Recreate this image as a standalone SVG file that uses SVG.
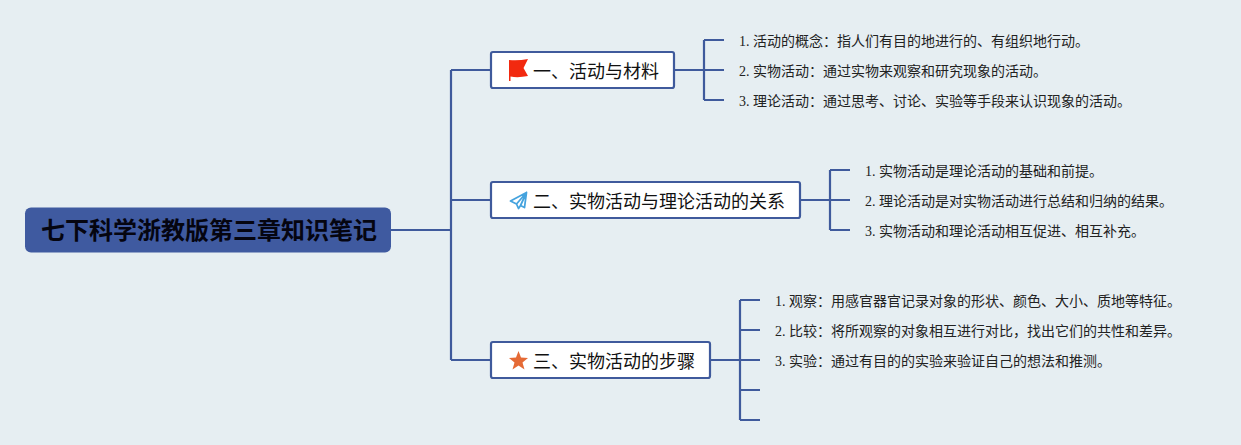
<svg xmlns="http://www.w3.org/2000/svg" width="1241" height="445" viewBox="0 0 1241 445">
<style>
.c{fill:none;stroke:#3f5a9c;stroke-width:2.200}
.b{fill:#fff;stroke:#3f5a9c;stroke-width:2.200}
.t{font-family:"Liberation Serif","Noto Sans CJK SC",sans-serif;font-size:18px;fill:#111}
.l{font-family:"Liberation Serif","Noto Sans CJK SC",sans-serif;font-size:14px;fill:#222}
.r{font-family:"Liberation Sans","Noto Sans CJK SC",sans-serif;font-size:24px;font-weight:bold;fill:#050510}
</style>
<rect width="1241" height="445" fill="#e6eef2"/>
<g id="connectors">
<path class="c" d="M391 230H451M451 70V360M451 70H491M451 200H491M451 360H491"/>
<path class="c" d="M674 70H724M704 40V100M704 40H724M704 100H724"/>
<path class="c" d="M800 200H850M830 170V230M830 170H850M830 230H850"/>
<path class="c" d="M710 360H760M740 300V420M740 300H760M740 330H760M740 390H760M740 420H760"/>
</g>
<g id="root">
<rect x="25" y="207.500" width="366" height="45" rx="6" fill="#3f5aa0"/>
<text class="r" x="41" y="239">七下科学浙教版第三章知识笔记</text>
</g>
<g id="n1">
<rect class="b" x="491" y="52" width="183" height="36" rx="2"/>
<path d="M509 60Q518 61 528 59L523.500 68L528 76Q518 78 510.500 76.500V81H509Z" fill="#f2290f"/>
<text class="t" x="533" y="78">一、活动与材料</text>
</g>
<g id="n2">
<rect class="b" x="491" y="182" width="309" height="36" rx="2"/>
<path d="M526.500 192.500L510.500 201L516.500 204L518.500 208.500L520.500 205.500L524.500 207.500ZM516.500 204L526.500 192.500L520.500 205.500" fill="none" stroke="#45a3de" stroke-width="1.800" stroke-linejoin="round"/>
<text class="t" x="533" y="208">二、实物活动与理论活动的关系</text>
</g>
<g id="n3">
<rect class="b" x="491" y="342" width="219" height="36" rx="2"/>
<path d="M518.500 351L521 357.500L528 358L522.500 362.500L524.500 369.500L518.500 365.500L512.500 369.500L514.500 362.500L509 358L516 357.500Z" fill="#e56a35"/>
<text class="t" x="533" y="368">三、实物活动的步骤</text>
</g>
<g id="leaves1">
<text class="l" x="739" y="46">1. 活动的概念：指人们有目的地进行的、有组织地行动。</text>
<text class="l" x="739" y="76">2. 实物活动：通过实物来观察和研究现象的活动。</text>
<text class="l" x="739" y="106">3. 理论活动：通过思考、讨论、实验等手段来认识现象的活动。</text>
</g>
<g id="leaves2">
<text class="l" x="865" y="176">1. 实物活动是理论活动的基础和前提。</text>
<text class="l" x="865" y="206">2. 理论活动是对实物活动进行总结和归纳的结果。</text>
<text class="l" x="865" y="236">3. 实物活动和理论活动相互促进、相互补充。</text>
</g>
<g id="leaves3">
<text class="l" x="775" y="306">1. 观察：用感官器官记录对象的形状、颜色、大小、质地等特征。</text>
<text class="l" x="775" y="336">2. 比较：将所观察的对象相互进行对比，找出它们的共性和差异。</text>
<text class="l" x="775" y="366">3. 实验：通过有目的的实验来验证自己的想法和推测。</text>
</g>
</svg>
